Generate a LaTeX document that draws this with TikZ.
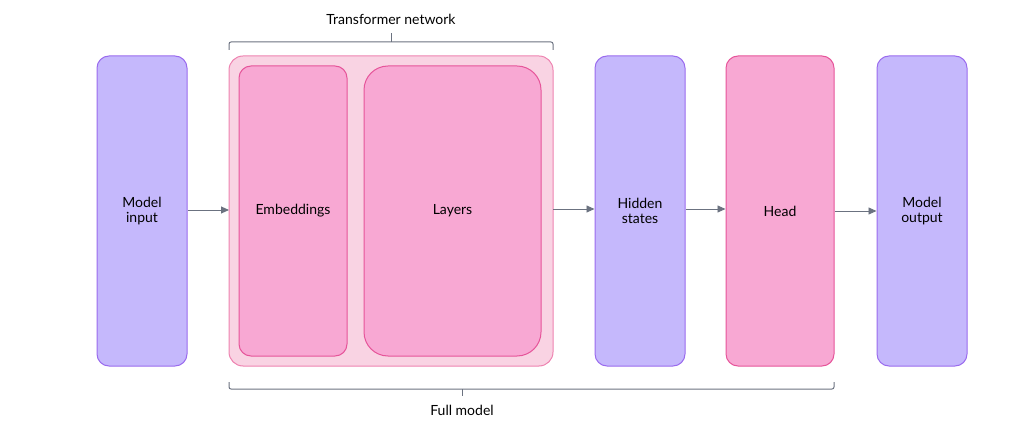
\documentclass[tikz,border=0pt]{standalone}
\usepackage{fontspec}
\setmainfont{Lato}
\usetikzlibrary{arrows.meta}
\definecolor{lilac}{HTML}{C5B8FC}
\definecolor{lilacline}{HTML}{9A6BEE}
\definecolor{rose}{HTML}{F8A8D3}
\definecolor{roseline}{HTML}{E6559A}
\definecolor{blush}{HTML}{F9D3E3}
\definecolor{blushline}{HTML}{EE82B0}
\definecolor{slate}{HTML}{6B7280}
\tikzset{
  purplebox/.style={draw=lilacline, fill=lilac, line width=1pt, rounded corners=12pt, align=center, font=\fontsize{14}{16}\selectfont},
  pinkbox/.style={draw=roseline, fill=rose, line width=1pt, rounded corners=12pt, align=center, font=\fontsize{14}{16}\selectfont},
  flow/.style={-{Triangle[length=8pt,width=7pt]}, slate, line width=0.9pt},
  bracket/.style={slate, line width=1pt, rounded corners=2pt}
}
\begin{document}
\begin{tikzpicture}[x=1pt, y=-1pt]
        \useasboundingbox (0,0) rectangle (1016,443);
        % outer transformer frame
        \draw[draw=blushline, fill=blush, line width=1pt, rounded corners=14pt] (229,56) rectangle (553,366);
        \node[purplebox, minimum width=90pt, minimum height=310pt] (input) at (142,211) {Model\\[-1pt]input};
        \node[pinkbox, minimum width=108pt, minimum height=290pt] (emb) at (293,211) {Embeddings};
        \node[pinkbox, rounded corners=24pt, minimum width=177pt, minimum height=290pt] (layers) at (452.5,211) {Layers};
        \node[purplebox, minimum width=90pt, minimum height=310pt] (hidden) at (640,211) {Hidden\\[-1pt]states};
        \node[pinkbox, minimum width=108pt, minimum height=310pt] (head) at (780,211) {Head};
        \node[purplebox, minimum width=90pt, minimum height=310pt] (output) at (922,211) {Model\\[-1pt]output};
        \coordinate (tfleft) at (229,210);
        \coordinate (tfright) at (553,209);
        \draw[flow] (input.east |- tfleft) -- (tfleft);
        \draw[flow] (tfright) -- (hidden.west |- tfright);
        \draw[flow] (hidden.east |- 0,209) -- (head.west |- 0,209);
        \draw[flow] (head.east |- 0,211) -- (output.west |- 0,211);
        % braces
        \draw[bracket] (229,50) -- (229,42) -- (553,42) -- (553,50);
        \draw[slate, line width=1pt] (391,42) -- (391,33);
        \node[font=\fontsize{14}{16}\selectfont] (tflabel) at (391,19) {Transformer network};
        \draw[bracket] (229,382) -- (229,389) -- (834,389) -- (834,382);
        \draw[slate, line width=1pt] (462,389) -- (462,396);
        \node[font=\fontsize{14}{16}\selectfont] (fulllabel) at (462,410) {Full model};
      \end{tikzpicture}
\end{document}
